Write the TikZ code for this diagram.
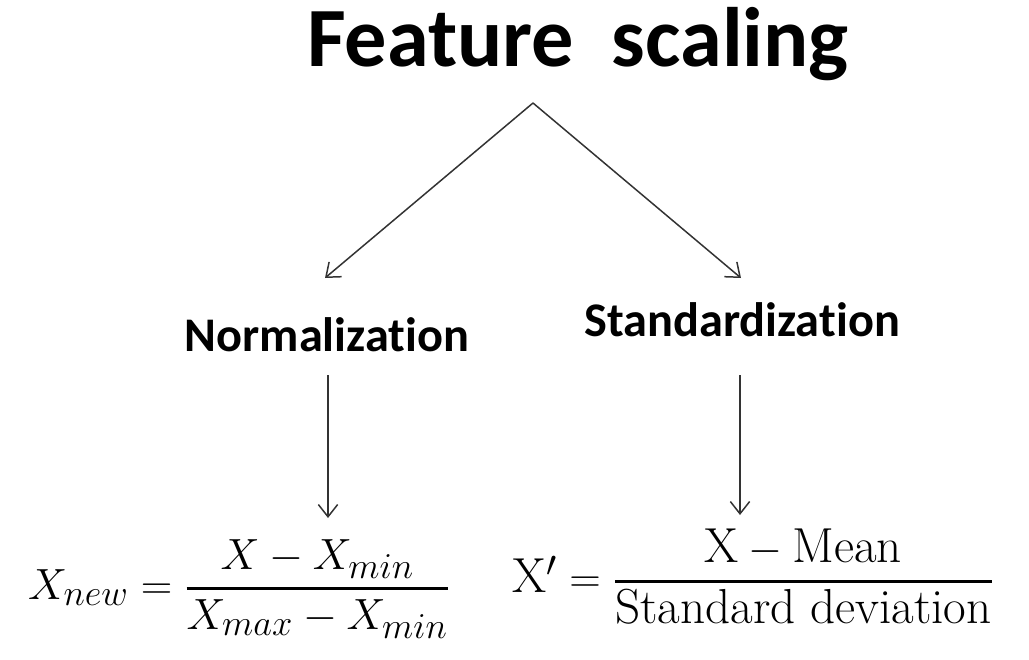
\documentclass[tikz,border=0pt]{standalone}
\usepackage{amsmath}
\usepackage{fontspec}
\newfontfamily\calib[Ligatures={NoCommon,NoContextual}]{Carlito}
\usetikzlibrary{arrows.meta}
\definecolor{linegray}{HTML}{333333}
\newcommand{\thickfrac}[2]{\genfrac{}{}{1.3pt}{0}{#1}{#2}}
\tikzset{
  conn/.style={draw=linegray, line width=0.85pt, -{Straight Barb[length=7pt,width=11pt,line width=0.85pt]}},
  heading/.style={font=\calib\bfseries\fontsize{27.5}{32}\selectfont, inner sep=0pt},
  formula/.style={inner sep=0pt, font=\fontsize{28}{34}\selectfont}
}
\begin{document}
\begin{tikzpicture}[x=0.02cm,y=-0.02cm]
\useasboundingbox (0,0) rectangle (1029,660);
\node[inner sep=0pt, font=\calib\bfseries\fontsize{48}{56}\selectfont] (title) at (578,44) {Feature\ \ scaling};
\coordinate (apex) at (533,103);
\coordinate (lend) at (325,278);
\coordinate (rend) at (741,278);
\node[heading] (norm) at (327,335) {Normalization};
\node[heading] (stand) at (742,320) {Standardization};
\coordinate (ltop) at (328,375);
\coordinate (lbot) at (328,518);
\coordinate (rtop) at (740,375);
\coordinate (rbot) at (740,515);
\draw[conn] (apex) -- (lend);
\draw[conn] (apex) -- (rend);
\draw[conn] (ltop) -- (lbot);
\draw[conn] (rtop) -- (rbot);
\node[formula] (fnorm) at (239,589) {$X_{new} = \thickfrac{X - X_{min}}{X_{max} - X_{min}}$};
\node[formula] (fstand) at (753,577) {$\mathrm{X}' = \thickfrac{\mathrm{X} - \text{Mean}}{\text{Standard deviation}}$};
\end{tikzpicture}
\end{document}
